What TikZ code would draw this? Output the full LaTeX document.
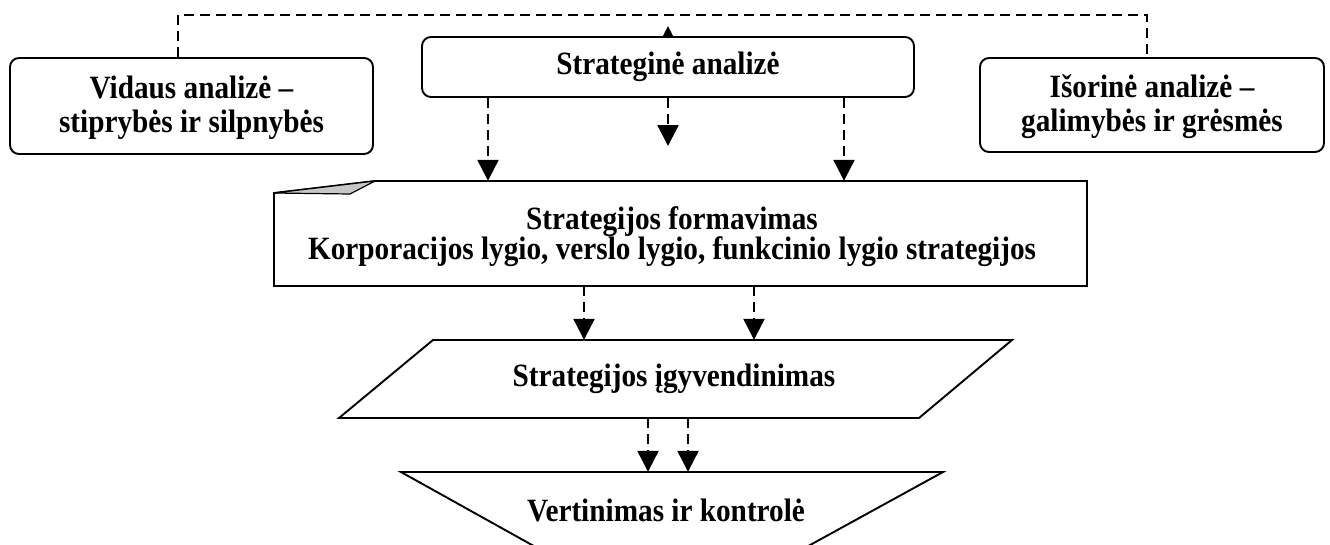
\documentclass[tikz,border=0pt]{standalone}
\usepackage{fontspec}
\setmainfont[FakeStretch=0.9]{Liberation Serif}
\usetikzlibrary{arrows.meta,backgrounds}

\newcommand\diagfont{\fontsize{32.5}{34}\selectfont\bfseries}

\tikzset{
  roundbox/.style={draw, line width=1.9pt, rounded corners=9pt, fill=white,
    align=center, inner sep=0pt, font=\diagfont},
  plainlabel/.style={align=center, inner sep=0pt, font=\diagfont},
  outline/.style={line width=1.9pt, line join=miter},
  dashline/.style={line width=2.3pt, dash pattern=on 10pt off 6pt},
  flow/.style={dashline, -{Triangle[length=21pt,width=21pt]}},
  uptip/.style={line width=2.3pt, -{Triangle[length=21pt,width=21pt]}},
}

\begin{document}
\begin{tikzpicture}[x=1pt,y=-1pt]
\useasboundingbox (0,0) rectangle (1330,544);

% analysis row
\node[roundbox, minimum width=363pt, minimum height=96pt] (inner) at (191.5,106)
  {\rule{0pt}{27pt}Vidaus analizė –\\stiprybės ir silpnybės};
\node[roundbox, minimum width=344pt, minimum height=94pt] (outer) at (1152,105)
  {\rule{0pt}{27pt}Išorinė analizė –\\galimybės ir grėsmės};
\node[roundbox, minimum width=492pt, minimum height=60pt] (sa) at (668,67)
  {Strateginė analizė};

% feedback line over the top row
\coordinate (ridge) at (669,15);
\draw[dashline] ([xshift=-13.5pt]inner.north) |- (ridge) -| ([xshift=-5pt]outer.north);
\begin{pgfonlayer}{background}
  \draw[uptip] ([yshift=-12pt]sa.north) -- ([yshift=10pt]sa.north);
\end{pgfonlayer}

% formulation (sheet with folded corner)
\draw[outline] (274,193) -- (375,181) -- (1087,181) -- (1087,286) -- (274,286) -- cycle;
\filldraw[line width=1.2pt, fill=black!22] (274,193) -- (375,181) -- (350,194) -- cycle;
\node[plainlabel, minimum width=813pt, minimum height=105pt] (form) at (672,233.5)
  {\rule{0pt}{30pt}Strategijos formavimas\\[-4pt]Korporacijos lygio, verslo lygio, funkcinio lygio strategijos};

% implementation (parallelogram)
\draw[outline] (339,418) -- (433,340) -- (1012,340) -- (919,418) -- cycle;
\node[plainlabel, minimum width=673pt, minimum height=78pt] (impl) at (674,379)
  {Strategijos įgyvendinimas};

% evaluation (funnel running off the bottom edge)
\draw[outline] (541,550) -- (401,472) -- (943,472) -- (801,550);
\node[plainlabel, minimum width=542pt, minimum height=76pt] (eval) at (666,510)
  {Vertinimas ir kontrolė};

% arrow columns
\coordinate (a1) at (488,0);
\coordinate (a2) at (668,0);
\coordinate (a3) at (844,0);
\coordinate (b1) at (584,0);
\coordinate (b2) at (754,0);
\coordinate (c1) at (648,0);
\coordinate (c2) at (688,0);
\coordinate (midtip) at (668,146);

\draw[flow] (sa.south -| a1) -- (form.north -| a1);
\draw[flow] (sa.south -| a2) -- (midtip);
\draw[flow] (sa.south -| a3) -- (form.north -| a3);
\draw[flow] (form.south -| b1) -- (impl.north -| b1);
\draw[flow] (form.south -| b2) -- (impl.north -| b2);
\draw[flow] (impl.south -| c1) -- (eval.north -| c1);
\draw[flow] (impl.south -| c2) -- (eval.north -| c2);
\end{tikzpicture}
\end{document}
